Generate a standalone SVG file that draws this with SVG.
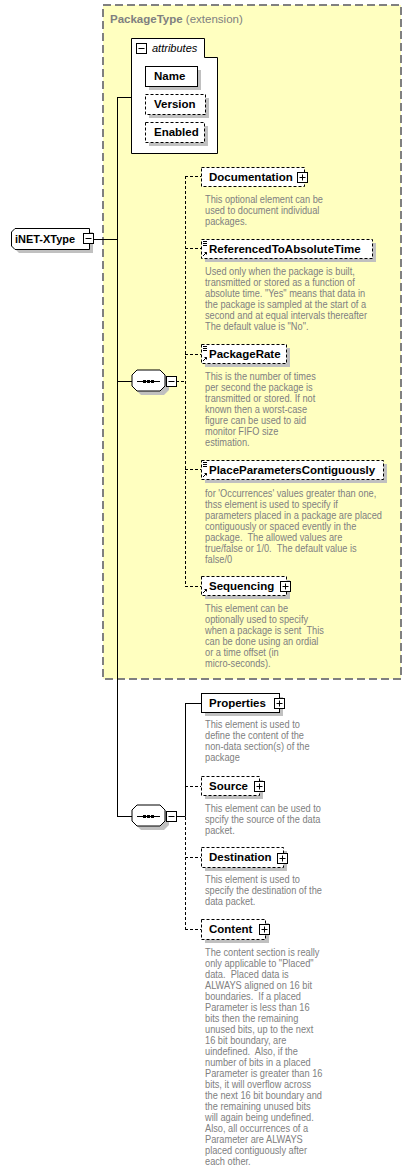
<svg xmlns="http://www.w3.org/2000/svg" width="411" height="1171" viewBox="0 0 411 1171">
<style>
.box{fill:#fff;stroke:#000;stroke-width:1}
.opt{fill:#fff;stroke:#000;stroke-width:1;stroke-dasharray:3,2}
.sh{fill:#c0c0c0}
.n{font-family:"Liberation Sans",Arial,sans-serif;font-weight:bold;font-size:11.5px;fill:#000}
.d{font-family:"Liberation Sans",Arial,sans-serif;font-size:10.5px;fill:#808080;white-space:pre}
.ln{stroke:#000;stroke-width:1;fill:none}
.dl{stroke:#000;stroke-width:1;fill:none;stroke-dasharray:3,2}
</style>
<defs>
<g id="plus"><rect x="0.5" y="0.5" width="10" height="10" fill="#fff" stroke="#000"/><path d="M2.5,5.5H8.5M5.5,2.5V8.5" stroke="#000"/></g>
<g id="minus"><rect x="0.5" y="0.5" width="10" height="10" fill="#fff" stroke="#000"/><path d="M2.5,5.5H8.5" stroke="#000"/></g>
<g id="simp"><path d="M2,2.5H6M2,4.5H6M2,6.5H6" stroke="#000"/><path d="M2,17L5.5,13.5M3.5,13.5H5.5V15.5" stroke="#000" fill="none"/></g>
<g id="arr"><path d="M2,17L5.5,13.5M3.5,13.5H5.5V15.5" stroke="#000" fill="none"/></g>
<g id="seq"><polygon points="9,4 32,4 37,9 37,20 32,25 9,25 4,20 4,9" class="sh"/><polygon points="5,0 28,0 33,5 33,16 28,21 5,21 0,16 0,5" fill="#fff" stroke="#000"/><path d="M5,11.5H28" stroke="#000"/><rect x="11" y="10" width="3" height="3"/><rect x="15" y="10" width="3" height="3"/><rect x="19" y="10" width="3" height="3"/></g>
</defs>

<g id="extension">
<rect x="103" y="5" width="298" height="674" fill="#ffffc0" stroke="#808080" stroke-width="2" stroke-dasharray="8,4"/>
<text x="110" y="23" font-family="Liberation Sans, Arial, sans-serif" font-size="11.5px" fill="#808080"><tspan font-weight="bold">PackageType</tspan> (extension)</text>
</g>

<g id="connectors">
<path class="ln" d="M94,239.5H117.5M117.5,97V816.5M117,97.5H131M117,381.5H132M117,816.5H132"/>
<path class="dl" d="M176,381.5H185.5M185.5,176V586M185,176.5H201M185,248.5H201M185,354.5H201M185,469.5H201M185,586.5H201"/>
<path class="ln" d="M176,816.5H185.5M185.5,703V816.5M185,703.5H201"/>
<path class="dl" d="M185,786.5H201M185.5,817V929M185,857.5H201M185,929.5H201"/>
</g>

<g id="iNET-XType">
<polygon points="19,232 93,232 93,253 19,253 15,249 15,236" class="sh"/>
<polygon points="15,228.5 89.5,228.5 89.5,249.5 15,249.5 11.5,246 11.5,232" fill="#fff" stroke="#000"/>
<text x="15" y="243" class="n" textLength="60" lengthAdjust="spacingAndGlyphs">iNET-XType</text>
<use href="#minus" x="83" y="233"/>
</g>

<g id="attributes">
<path d="M131.5,38.5H204.5V57.5H217.5V153.5H131.5Z" fill="#fff" stroke="#000"/>
<use href="#minus" x="136" y="43"/>
<text x="152" y="52" font-family="Liberation Sans, Arial, sans-serif" font-style="italic" font-size="11px">attributes</text>
<g id="attr-name"><rect x="149" y="70" width="52" height="20" class="sh"/><rect x="145.5" y="66.5" width="52" height="20" class="box"/><text x="154" y="80" class="n" font-size="11px">Name</text></g>
<g id="attr-version"><rect x="149" y="98" width="60" height="20" class="sh"/><rect x="145.5" y="94.5" width="60" height="20" class="opt"/><text x="154" y="108" class="n" font-size="11px">Version</text></g>
<g id="attr-enabled"><rect x="149" y="126" width="59" height="20" class="sh"/><rect x="145.5" y="122.5" width="59" height="20" class="opt"/><text x="154" y="136" class="n" font-size="11px">Enabled</text></g>
</g>

<g id="sequence1"><use href="#seq" x="132" y="370"/><use href="#minus" x="166" y="376"/></g>
<g id="sequence2"><use href="#seq" x="132" y="805"/><use href="#minus" x="166" y="811"/></g>

<g id="Documentation">
<rect x="201.5" y="167.5" width="103" height="19" class="opt"/>
<text x="209" y="181" class="n">Documentation</text>
<use href="#plus" x="297" y="172"/>
<text class="d" transform="translate(205,0) scale(0.88,1)"><tspan x="0" y="203">This optional element can be</tspan><tspan x="0" y="214">used to document individual</tspan><tspan x="0" y="225">packages.</tspan></text>
</g>

<g id="ReferencedToAbsoluteTime">
<rect x="205" y="243" width="171" height="19" class="sh"/>
<rect x="201.5" y="239.5" width="171" height="19" class="opt"/>
<use href="#simp" x="201" y="239"/>
<text x="209" y="253" class="n">ReferencedToAbsoluteTime</text>
<text class="d" transform="translate(205,0) scale(0.88,1)"><tspan x="0" y="275">Used only when the package is built,</tspan><tspan x="0" y="286">transmitted or stored as a function of</tspan><tspan x="0" y="297">absolute time. "Yes" means that data in</tspan><tspan x="0" y="308">the package is sampled at the start of a</tspan><tspan x="0" y="319">second and at equal intervals thereafter</tspan><tspan x="0" y="330">The default value is "No".</tspan></text>
</g>

<g id="PackageRate">
<rect x="205" y="348" width="85" height="19" class="sh"/>
<rect x="201.5" y="344.5" width="85" height="19" class="opt"/>
<use href="#simp" x="201" y="344"/>
<text x="209" y="358" class="n">PackageRate</text>
<text class="d" transform="translate(205,0) scale(0.88,1)"><tspan x="0" y="380">This is the number of times</tspan><tspan x="0" y="391">per second the package is</tspan><tspan x="0" y="402">transmitted or stored. If not</tspan><tspan x="0" y="413">known then a worst-case</tspan><tspan x="0" y="424">figure can be used to aid</tspan><tspan x="0" y="435">monitor FIFO size</tspan><tspan x="0" y="446">estimation.</tspan></text>
</g>

<g id="PlaceParametersContiguously">
<rect x="205" y="464" width="182" height="19" class="sh"/>
<rect x="201.5" y="460.5" width="182" height="19" class="opt"/>
<use href="#simp" x="201" y="460"/>
<text x="209" y="474" class="n">PlaceParametersContiguously</text>
<text class="d" transform="translate(205,0) scale(0.88,1)"><tspan x="0" y="497">for 'Occurrences' values greater than one,</tspan><tspan x="0" y="508">thss element is used to specify if</tspan><tspan x="0" y="519">parameters placed in a package are placed</tspan><tspan x="0" y="530">contiguously or spaced evently in the</tspan><tspan x="0" y="541">package.  The allowed values are</tspan><tspan x="0" y="552">true/false or 1/0.  The default value is</tspan><tspan x="0" y="563">false/0</tspan></text>
</g>

<g id="Sequencing">
<rect x="205" y="580" width="85" height="19" class="sh"/>
<rect x="201.5" y="576.5" width="85" height="19" class="opt"/>
<use href="#arr" x="201" y="576"/>
<text x="209" y="590" class="n">Sequencing</text>
<use href="#plus" x="280" y="581"/>
<text class="d" transform="translate(205,0) scale(0.88,1)"><tspan x="0" y="612">This element can be</tspan><tspan x="0" y="623">optionally used to specify</tspan><tspan x="0" y="634">when a package is sent  This</tspan><tspan x="0" y="645">can be done using an ordial</tspan><tspan x="0" y="656">or a time offset (in</tspan><tspan x="0" y="667">micro-seconds).</tspan></text>
</g>

<g id="Properties">
<rect x="205" y="697" width="78" height="19" class="sh"/>
<rect x="201.5" y="693.5" width="78" height="19" class="box"/>
<text x="209" y="707" class="n">Properties</text>
<use href="#plus" x="274" y="698"/>
<text class="d" transform="translate(205,0) scale(0.88,1)"><tspan x="0" y="728">This element is used to</tspan><tspan x="0" y="739">define the content of the</tspan><tspan x="0" y="750">non-data section(s) of the</tspan><tspan x="0" y="761">package</tspan></text>
</g>

<g id="Source">
<rect x="205" y="780" width="58" height="19" class="sh"/>
<rect x="201.5" y="776.5" width="58" height="19" class="opt"/>
<text x="209" y="790" class="n">Source</text>
<use href="#plus" x="254" y="781"/>
<text class="d" transform="translate(205,0) scale(0.88,1)"><tspan x="0" y="812">This element can be used to</tspan><tspan x="0" y="823">spcify the source of the data</tspan><tspan x="0" y="834">packet.</tspan></text>
</g>

<g id="Destination">
<rect x="205" y="851" width="82" height="20" class="sh"/>
<rect x="201.5" y="847.5" width="82" height="20" class="opt"/>
<text x="209" y="861" class="n">Destination</text>
<use href="#plus" x="277" y="853"/>
<text class="d" transform="translate(205,0) scale(0.88,1)"><tspan x="0" y="883">This element is used to</tspan><tspan x="0" y="894">specify the destination of the</tspan><tspan x="0" y="905">data packet.</tspan></text>
</g>

<g id="Content">
<rect x="205" y="923" width="64" height="20" class="sh"/>
<rect x="201.5" y="919.5" width="64" height="20" class="opt"/>
<text x="209" y="933" class="n">Content</text>
<use href="#plus" x="259" y="924"/>
<text class="d" transform="translate(205,0) scale(0.88,1)"><tspan x="0" y="956">The content section is really</tspan><tspan x="0" y="967">only applicable to "Placed"</tspan><tspan x="0" y="978">data.  Placed data is</tspan><tspan x="0" y="989">ALWAYS aligned on 16 bit</tspan><tspan x="0" y="1000">boundaries.  If a placed</tspan><tspan x="0" y="1011">Parameter is less than 16</tspan><tspan x="0" y="1022">bits then the remaining</tspan><tspan x="0" y="1033">unused bits, up to the next</tspan><tspan x="0" y="1044">16 bit boundary, are</tspan><tspan x="0" y="1055">uindefined.  Also, if the</tspan><tspan x="0" y="1066">number of bits in a placed</tspan><tspan x="0" y="1077">Parameter is greater than 16</tspan><tspan x="0" y="1088">bits, it will overflow across</tspan><tspan x="0" y="1099">the next 16 bit boundary and</tspan><tspan x="0" y="1110">the remaining unused bits</tspan><tspan x="0" y="1121">will again being undefined.</tspan><tspan x="0" y="1132">Also, all occurrences of a</tspan><tspan x="0" y="1143">Parameter are ALWAYS</tspan><tspan x="0" y="1154">placed contiguously after</tspan><tspan x="0" y="1165">each other.</tspan></text>
</g>
</svg>
